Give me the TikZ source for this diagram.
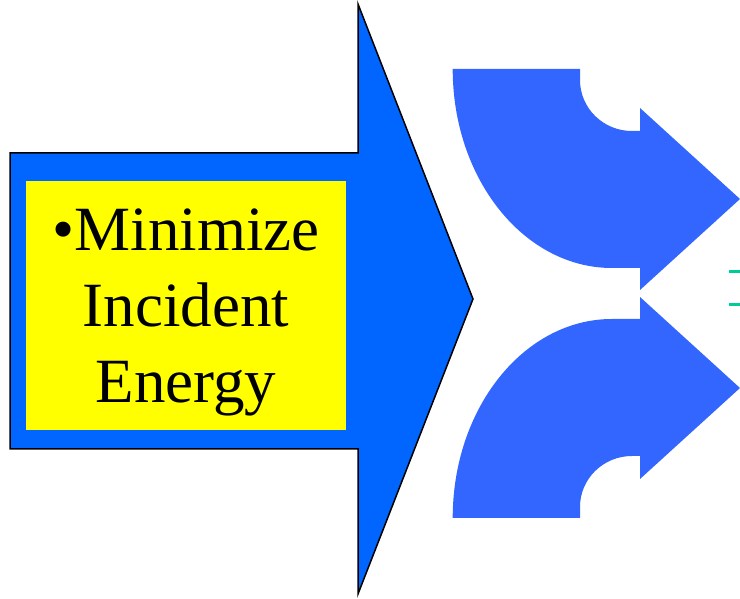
\documentclass[tikz,border=0pt]{standalone}
\usepackage{fontspec}
\setmainfont{Liberation Serif}
\definecolor{shaftblue}{RGB}{0, 102, 255}
\definecolor{bendblue}{RGB}{51, 102, 255}
\definecolor{markgreen}{RGB}{0, 204, 153}
\definecolor{goalyellow}{RGB}{255, 255, 0}
\usepackage{tikz}
\usetikzlibrary{positioning, calc}

\begin{document}
\begin{tikzpicture}[x=1pt, y=1pt]
  \useasboundingbox (0,0) rectangle (740,598);
  % big input arrow
  \draw[fill=shaftblue, line width=1.5pt, line join=miter]
    (10,445) -- (358,445) -- (358,594) -- (473,299) -- (358,4) -- (358,149) -- (10,149) -- cycle;
  \node[fill=goalyellow, minimum width=320pt, minimum height=249pt, inner sep=0pt, align=center,
        text depth=0pt, font=\fontsize{63}{76}\selectfont] (goal) at (186,292.5)
    {\textbullet Minimize\\Incident\\Energy};
  % two bent arrows, mirrored about the middle
  \foreach \s in {1,-1}
    \fill[bendblue, shift={(0,304.5)}, yscale=\s]
      (452.7,224.5) -- (580,224.5) -- (580,213.5) arc[start angle=180, end angle=270, x radius=52, y radius=51]
      -- (640,162.5) -- (640,185.5) -- (740,94.5) -- (640,3.5) -- (640,25.5) -- (612,25.5)
      arc[start angle=270, end angle=180, x radius=159.3, y radius=199] -- cycle;
  % cut-off marks at the right edge
  \coordinate (m1a) at (729,326.3);
  \coordinate (m1b) at (740,326.3);
  \coordinate (m2a) at (729,293.7);
  \coordinate (m2b) at (740,293.7);
  \draw[markgreen, line width=2.5pt] (m1a) -- (m1b) (m2a) -- (m2b);
\end{tikzpicture}
\end{document}
